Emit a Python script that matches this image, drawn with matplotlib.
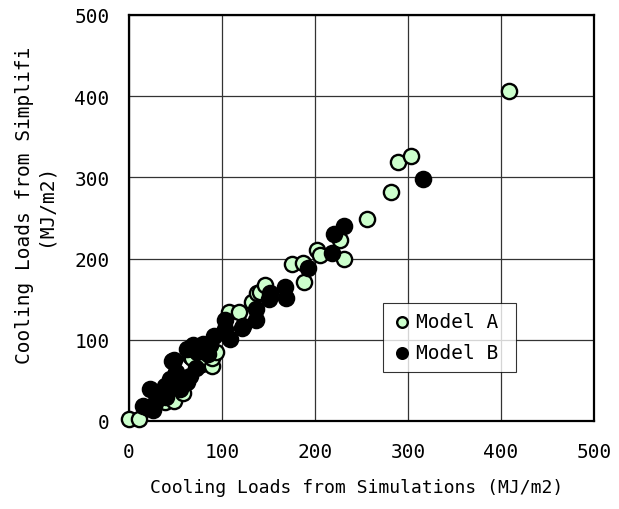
import matplotlib
matplotlib.use("Agg")
import matplotlib.pyplot as plt
import numpy as np

# cooling loads (MJ/m2): x = detailed simulation, y = simplified method
model_a_x = [0, 11, 39, 48, 58, 66, 68, 78, 89, 89, 94, 69, 107, 118, 132,
             138, 141, 146, 175, 187, 188, 202, 205, 227, 231, 256, 282, 289,
             303, 409]
model_a_y = [2, 2, 23, 25, 35, 80, 77, 70, 68, 78, 85, 89, 134, 134, 146,
             158, 159, 167, 193, 195, 171, 210, 204, 223, 200, 249, 282, 319,
             326, 406]

model_b_x = [15, 20, 23, 26, 28, 33, 39, 40, 44, 46, 48, 51, 55, 58, 62, 62,
             66, 69, 72, 73, 80, 85, 87, 91, 103, 103, 109, 122, 123, 137, 137,
             150, 152, 168, 169, 193, 218, 220, 231, 316]
model_b_y = [19, 16, 39, 13, 22, 31, 43, 30, 52, 74, 75, 60, 39, 53, 48, 89,
             55, 93, 65, 85, 95, 83, 93, 105, 113, 124, 101, 115, 117, 124, 138,
             150, 158, 165, 151, 189, 207, 230, 240, 298]

ticks = [0, 100, 200, 300, 400, 500]

mono = "DejaVu Sans Mono"

fig = plt.figure(figsize=(6.19, 5.10), dpi=100)
ax = fig.add_axes([129 / 619, 1 - 422 / 510, 465 / 619, 406 / 510])

ax.scatter(model_a_x, model_a_y, s=120, facecolor="#ccffcc", edgecolor="black",
           linewidths=1.7, zorder=3, label="Model A", clip_on=False)
ax.scatter(model_b_x, model_b_y, s=120, facecolor="black", edgecolor="black",
           linewidths=1.7, zorder=4, label="Model B", clip_on=False)

ax.set_xlim(0, 500)
ax.set_ylim(0, 500)
ax.set_xticks(ticks)
ax.set_yticks(ticks)
ax.set_xticklabels([str(t) for t in ticks], family=mono, fontsize=14)
ax.set_yticklabels([str(t) for t in ticks], family=mono, fontsize=14)
ax.tick_params(axis="x", length=0, pad=15)
ax.tick_params(axis="y", length=0, pad=14)
ax.grid(True, color="#333333", linewidth=0.9, zorder=1)
ax.set_axisbelow(True)
for sp in ax.spines.values():
    sp.set_linewidth(1.6)
    sp.set_color("black")

leg = ax.legend(loc="lower left", bbox_to_anchor=(0.546, 0.121, 0.286, 0.18),
                mode="expand", frameon=True, fancybox=False, markerscale=0.7,
                handletextpad=0.2, borderpad=0.5, labelspacing=0.6,
                handlelength=1.0, borderaxespad=0,
                prop={"family": mono, "size": 14})
leg.get_frame().set_edgecolor("black")
leg.get_frame().set_linewidth(0.8)

fig.text(357 / 619, 1 - 488 / 510, "Cooling Loads from Simulations (MJ/m2)",
         ha="center", va="center", family=mono, fontsize=13)
fig.text(35 / 619, 1 - 205 / 510, "Cooling Loads from Simplifi\n(MJ/m2)",
         ha="center", va="center", rotation=90, family=mono, fontsize=14,
         multialignment="center", linespacing=1.1)

fig.savefig("out.png", dpi=100)
